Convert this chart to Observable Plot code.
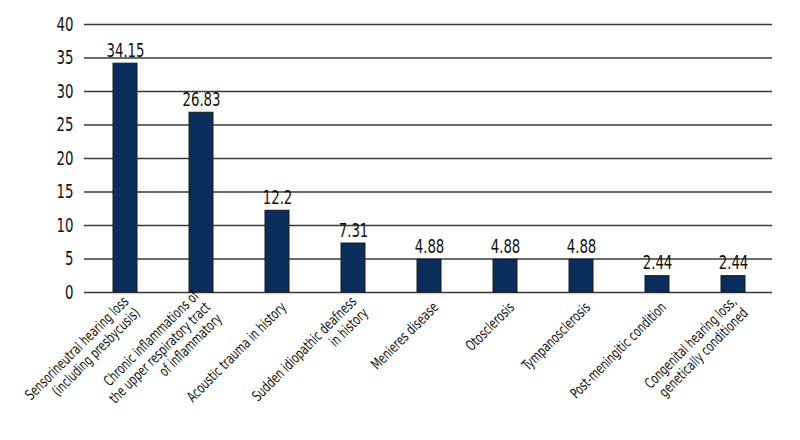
<!DOCTYPE html>
<html>
<head>
<meta charset="utf-8">
<script src="https://cdn.jsdelivr.net/npm/d3@7"></script>
<script src="https://cdn.jsdelivr.net/npm/@observablehq/plot@0.6"></script>
<style>
  html, body { margin: 0; padding: 0; background: #fff; }
  #chart svg { font-family: "DejaVu Sans Condensed", "DejaVu Sans", sans-serif; font-stretch: condensed; }
</style>
</head>
<body>
<div id="chart"></div>
<script>
const categories = [
  "Sensorineutral hearing loss\n(including presbycusis)",
  "Chronic inflammations of\nthe upper respiratory tract\nof inflammatory",
  "Acoustic trauma in history",
  "Sudden idiopathic deafness\nin history",
  "Menieres disease",
  "Otosclerosis",
  "Tympanosclerosis",
  "Post-meningitic condition",
  "Congenital hearing loss,\ngenetically conditioned"
];
const values = [34.15, 26.83, 12.2, 7.31, 4.88, 4.88, 4.88, 2.44, 2.44];
const valueLabels = ["34.15", "26.83", "12.2", "7.31", "4.88", "4.88", "4.88", "2.44", "2.44"];
const yTicks = [0, 5, 10, 15, 20, 25, 30, 35, 40];

const data = categories.map((c, i) => ({category: c, value: values[i], label: valueLabels[i]}));

const chart = Plot.plot({
  width: 800,
  height: 440,
  marginLeft: 87,
  marginRight: 29,
  marginTop: 24,
  marginBottom: 148,
  style: {color: "#111"},
  x: {domain: categories, paddingInner: 0.68, paddingOuter: 0.34, label: null, axis: null},
  y: {domain: [0, 40], ticks: yTicks, label: null, axis: null},
  marks: [
    Plot.ruleY(yTicks, {stroke: "#3a3a3a", strokeWidth: 1.7, insetLeft: -3, insetRight: -1}),
    Plot.barY(data, {x: "category", y: "value", fill: "#0b2d5b", stroke: "#1a1a1a", strokeWidth: 1}),
    Plot.text(data, {x: "category", y: "value", text: "label", lineAnchor: "bottom", dy: -7, fontSize: 19, rotate: 360, fill: "#111"}),
    Plot.text(yTicks, {y: d => d, text: d => String(d), frameAnchor: "left", textAnchor: "end", lineAnchor: "middle", dx: -14, fontSize: 19, rotate: 360, fill: "#111"}),
    Plot.text(data, {x: "category", y: 0, text: "category", rotate: -45, textAnchor: "end", lineAnchor: "middle", dx: 6, dy: 12, fontSize: 14.5, lineHeight: 1.12, fill: "#111"})
  ]
});
chart.querySelectorAll("text[transform*='rotate']").forEach(t => {
  t.setAttribute("transform", t.getAttribute("transform") + " scale(0.78,1)");
});
document.getElementById("chart").appendChild(chart);
</script>
</body>
</html>
